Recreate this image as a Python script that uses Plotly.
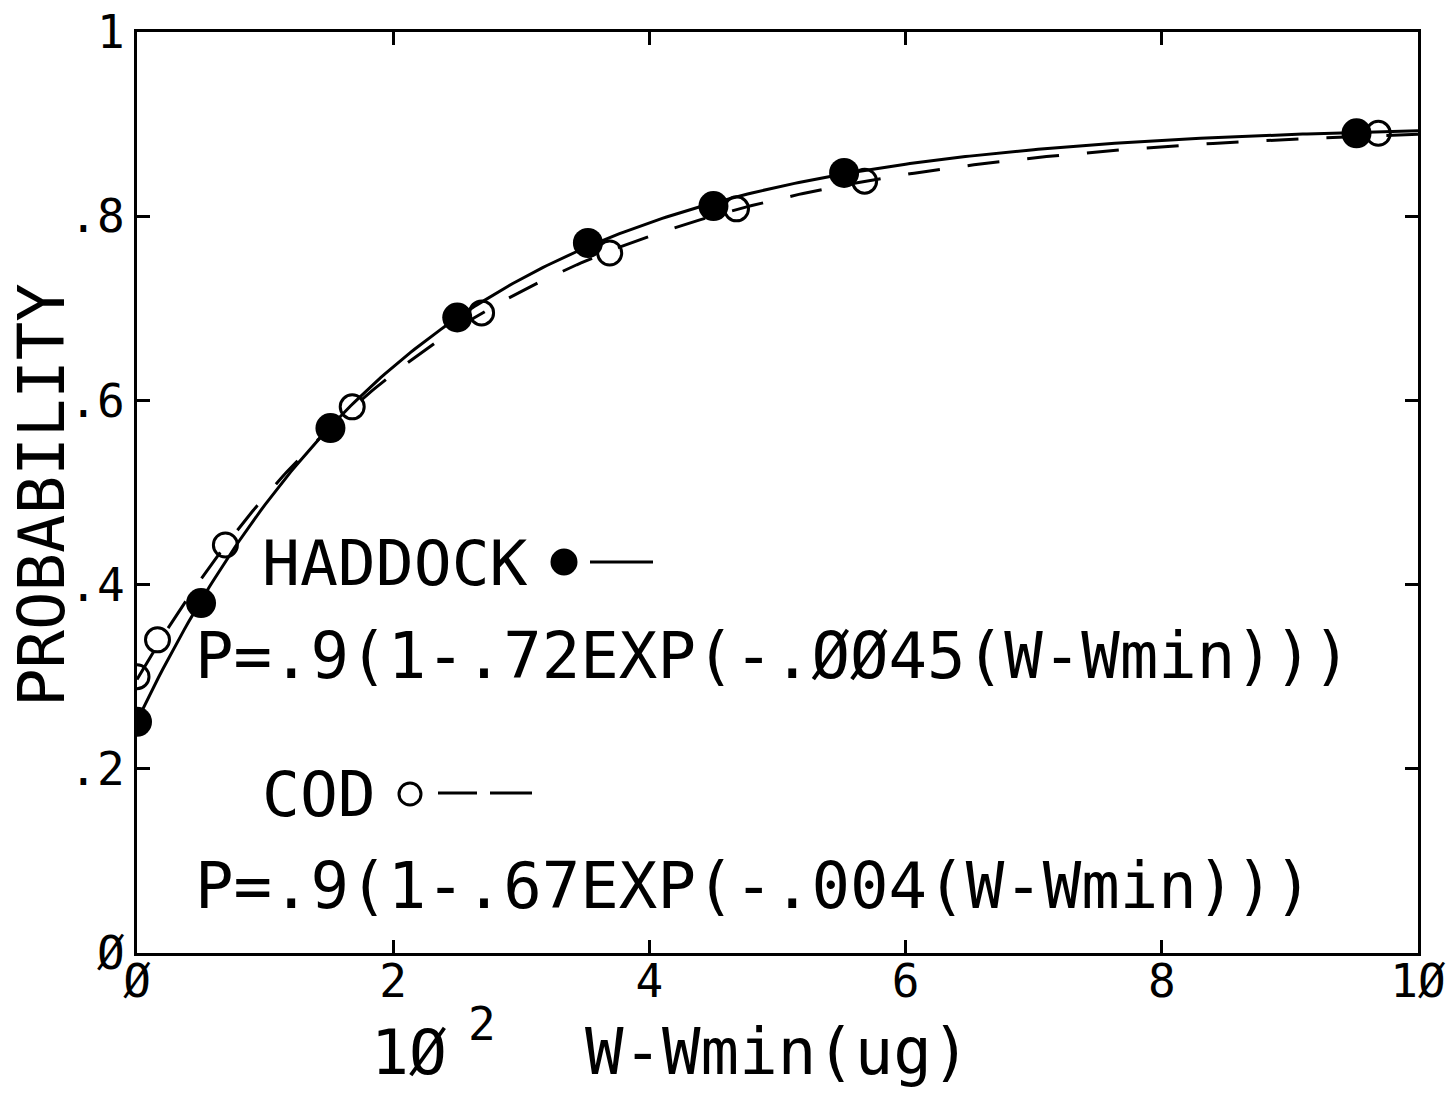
import numpy as np
import plotly.graph_objects as go

# ---- data ----
haddock_x = [0.0, 0.50, 1.51, 2.50, 3.52, 4.50, 5.52, 9.52]
haddock_y = [0.251, 0.380, 0.570, 0.690, 0.771, 0.811, 0.847, 0.890]

cod_x = [0.0, 0.16, 0.69, 1.68, 2.69, 3.69, 4.68, 5.68, 9.69]
cod_y = [0.300, 0.340, 0.443, 0.593, 0.695, 0.760, 0.808, 0.838, 0.890]

# fitted curves printed on the chart: P = a(1 - b*exp(-k*(W-Wmin))), W in ug, axis in 10^2 ug
haddock_fit = dict(a=0.9, b=0.72, k=0.0045)
cod_fit = dict(a=0.9, b=0.67, k=0.004)

x_ticks = [0, 2, 4, 6, 8, 10]
x_ticktext = ["Ø", "2", "4", "6", "8", "1Ø"]
y_ticks = [0, 0.2, 0.4, 0.6, 0.8, 1.0]
y_ticktext = ["Ø", ".2", ".4", ".6", ".8", "1"]

FONT = "DejaVu Sans Mono"

xc = np.linspace(0, 10, 301)


def fit_curve(p):
    return p["a"] * (1 - p["b"] * np.exp(-p["k"] * xc * 100))


fig = go.Figure()

fig.add_trace(go.Scatter(x=xc, y=fit_curve(cod_fit), mode="lines",
                         line=dict(color="black", width=3, dash="32px,28px"),
                         showlegend=False, hoverinfo="skip"))
fig.add_trace(go.Scatter(x=xc, y=fit_curve(haddock_fit), mode="lines",
                         line=dict(color="black", width=3),
                         showlegend=False, hoverinfo="skip"))
fig.add_trace(go.Scatter(x=cod_x, y=cod_y, mode="markers",
                         marker=dict(symbol="circle-open", size=24, color="black",
                                     line=dict(width=3, color="black")),
                         showlegend=False))
fig.add_trace(go.Scatter(x=haddock_x, y=haddock_y, mode="markers",
                         marker=dict(symbol="circle", size=30, color="black"),
                         showlegend=False))

W, H = 1450, 1093
L, R, T, B = 137, 32, 32, 140
pw, ph = W - L - R, H - T - B


def px(xp):
    return (xp - L) / pw


def py(yp):
    return (H - B - yp) / ph


ann = []


def txt(text, xpix, ypix, size, xanchor="left", angle=0):
    ann.append(dict(text=text, x=px(xpix), y=py(ypix), xref="paper", yref="paper",
                    xanchor=xanchor, yanchor="middle", showarrow=False, textangle=angle,
                    font=dict(family=FONT, size=size, color="black")))


txt("HADDOCK", 260, 563, 63)
txt("P=.9(1-.72EXP(-.ØØ45(W-Wmin)))", 193, 656, 64)
txt("COD", 260, 794, 63)
txt("P=.9(1-.67EXP(-.004(W-Wmin)))", 193, 886, 64)

txt("PROBABILITY", 42, 495, 64, xanchor="center", angle=-90)
txt("1Ø", 409, 1052, 63, xanchor="center")
txt("2", 482, 1024, 46, xanchor="center")
txt("W-Wmin(ug)", 583, 1052, 64)

# legend keys drawn beside the labels
shapes = []


def circ(cx, cy, r, filled):
    shapes.append(dict(type="circle", xref="paper", yref="paper",
                       x0=px(cx - r), x1=px(cx + r), y0=py(cy + r), y1=py(cy - r),
                       line=dict(color="black", width=3),
                       fillcolor="black" if filled else "rgba(0,0,0,0)"))


def seg(xa, xb, y):
    shapes.append(dict(type="line", xref="paper", yref="paper",
                       x0=px(xa), x1=px(xb), y0=py(y), y1=py(y),
                       line=dict(color="black", width=3)))


circ(564, 562, 12, True)
seg(590, 653, 562)
circ(410, 794, 11, False)
seg(438, 477, 793)
seg(490, 532, 793)

axis_common = dict(showgrid=False, zeroline=False, showline=True, linecolor="black",
                   linewidth=3, mirror="ticks", ticks="inside", ticklen=13,
                   tickwidth=3, tickcolor="black", automargin=False,
                   tickfont=dict(family=FONT, size=46, color="black"))

fig.update_layout(
    width=W, height=H,
    margin=dict(l=L, r=R, t=T, b=B),
    paper_bgcolor="white", plot_bgcolor="white",
    xaxis=dict(range=[0, 10], tickvals=x_ticks, ticktext=x_ticktext,
               ticklabelstandoff=-14, **axis_common),
    yaxis=dict(range=[0, 1], tickvals=y_ticks, ticktext=y_ticktext, **axis_common),
    annotations=ann,
    shapes=shapes,
)

fig.write_html("out.html", config={"displayModeBar": False},
               post_script="document.body.style.margin='0';document.body.style.overflow='hidden';")
